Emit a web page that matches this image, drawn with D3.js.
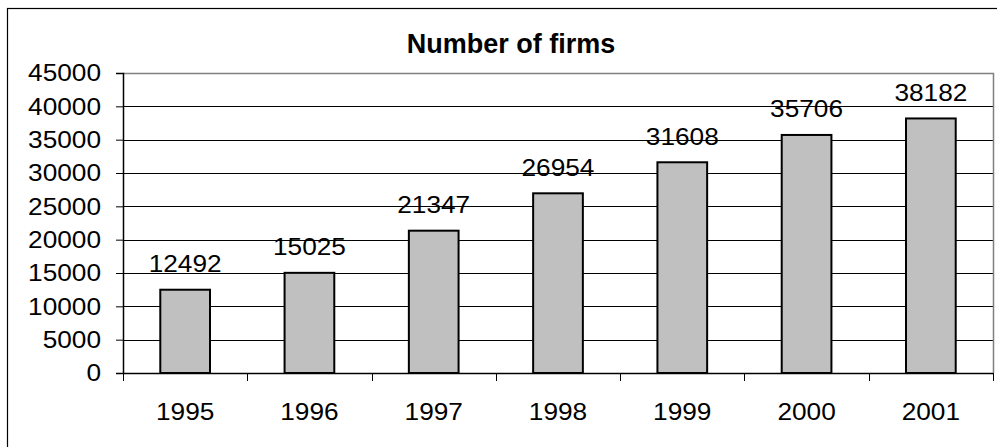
<!DOCTYPE html>
<html>
<head>
<meta charset="utf-8">
<script src="https://cdn.jsdelivr.net/npm/d3@7"></script>
<style>
  html, body { margin: 0; padding: 0; background: #fff; }
  svg { display: block; }
  text { font-family: "Liberation Sans", Arial, sans-serif; fill: #000; }
</style>
</head>
<body>
<div id="chart"></div>
<script>
// данные графика
const years = ['1995', '1996', '1997', '1998', '1999', '2000', '2001'];
const firms = [12492, 15025, 21347, 26954, 31608, 35706, 38182];
const yTicks = [0, 5000, 10000, 15000, 20000, 25000, 30000, 35000, 40000, 45000];
const title = 'Number of firms';

const width = 997;
const height = 447;
const plot = { left: 123, right: 993, top: 73, bottom: 373 };
const labelSize = '24.5px';
const stretch = 1.07; // подписи в оригинале чуть растянуты по ширине

const svg = d3.select('#chart')
    .append('svg')
    .attr('width', width)
    .attr('height', height);

// рамка всей диаграммы (обрезана справа и снизу)
svg.append('rect')
    .attr('x', 7.5).attr('y', 8.5)
    .attr('width', 1100).attr('height', 600)
    .attr('fill', 'none')
    .attr('stroke', '#000')
    .attr('stroke-width', 1.2);

const x = d3.scaleBand()
    .domain(years)
    .range([plot.left, plot.right])
    .paddingInner(0.6)
    .paddingOuter(0.3);

const xStep = (plot.right - plot.left) / years.length;

const y = d3.scaleLinear()
    .domain([0, 45000])
    .range([plot.bottom, plot.top]);

// сетка
svg.append('g')
    .selectAll('line')
    .data(yTicks.slice(1, -1))
    .enter().append('line')
    .attr('x1', plot.left).attr('x2', plot.right)
    .attr('y1', d => Math.round(y(d)) + 0.5)
    .attr('y2', d => Math.round(y(d)) + 0.5)
    .attr('stroke', '#000')
    .attr('stroke-width', 1);

// верх и правая граница области построения
svg.append('path')
    .attr('d', `M${plot.left},${plot.top + 0.5}H${plot.right + 0.5}V${plot.bottom}`)
    .attr('fill', 'none')
    .attr('stroke', '#808080')
    .attr('stroke-width', 1.5);

// столбцы
svg.append('g')
    .selectAll('rect')
    .data(firms)
    .enter().append('rect')
    .attr('x', (d, i) => x(years[i]))
    .attr('y', d => y(d))
    .attr('width', x.bandwidth())
    .attr('height', d => y(0) - y(d))
    .attr('fill', '#c0c0c0')
    .attr('stroke', '#000')
    .attr('stroke-width', 2);

// ось Y
const yAxis = svg.append('g')
    .attr('transform', `translate(${plot.left},0)`)
    .call(d3.axisLeft(y).tickValues(yTicks).tickSize(7).tickPadding(15).tickFormat(d3.format('d')));
yAxis.select('.domain').attr('stroke', '#000').attr('stroke-width', 1.5);
yAxis.selectAll('.tick line').attr('stroke', '#000').attr('stroke-width', 1);
yAxis.selectAll('text').attr('font-size', labelSize).attr('font-family', '"Liberation Sans", Arial, sans-serif');

// ось X: линия и засечки между категориями
svg.append('line')
    .attr('x1', plot.left).attr('x2', plot.right)
    .attr('y1', plot.bottom + 0.5).attr('y2', plot.bottom + 0.5)
    .attr('stroke', '#000').attr('stroke-width', 1.5);

svg.append('g')
    .selectAll('line')
    .data(d3.range(years.length + 1))
    .enter().append('line')
    .attr('x1', i => Math.round(plot.left + i * xStep) + 0.5)
    .attr('x2', i => Math.round(plot.left + i * xStep) + 0.5)
    .attr('y1', plot.bottom).attr('y2', plot.bottom + 8)
    .attr('stroke', '#000').attr('stroke-width', 1);

svg.append('g')
    .selectAll('text')
    .data(years)
    .enter().append('text')
    .attr('x', d => x(d) + x.bandwidth() / 2)
    .attr('y', 419.5)
    .attr('text-anchor', 'middle')
    .attr('font-size', labelSize)
    .text(d => d);

// подписи значений
svg.append('g')
    .selectAll('text')
    .data(firms)
    .enter().append('text')
    .attr('x', (d, i) => x(years[i]) + x.bandwidth() / 2)
    .attr('y', d => y(d) - 17.5)
    .attr('text-anchor', 'middle')
    .attr('font-size', labelSize)
    .text(d => d);

// заголовок
svg.append('text')
    .attr('x', 511)
    .attr('y', 53)
    .attr('text-anchor', 'middle')
    .attr('font-size', '27px')
    .attr('font-weight', 'bold')
    .text(title);

// растягиваем обычные подписи по ширине
svg.selectAll('text').filter(function () {
    return d3.select(this).attr('font-weight') !== 'bold';
}).each(function () {
    const len = this.getComputedTextLength();
    d3.select(this)
        .attr('textLength', len * stretch)
        .attr('lengthAdjust', 'spacingAndGlyphs');
});
</script>
</body>
</html>
